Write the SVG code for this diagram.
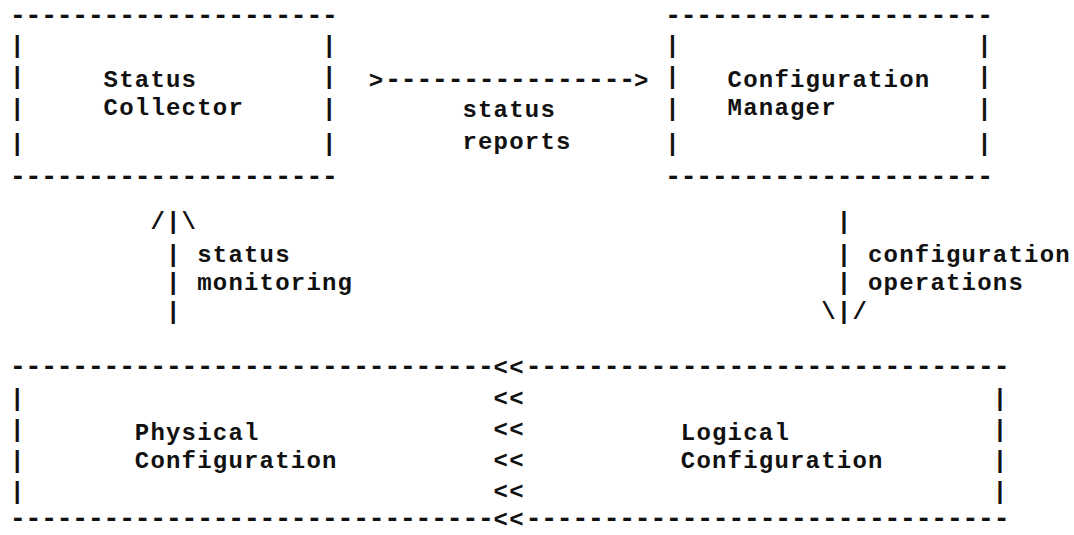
<svg xmlns="http://www.w3.org/2000/svg" width="1074" height="535" viewBox="0 0 1074 535">
  <style>
    /* typewriter grid: one column = 15.6px, column 0 starts at x=10 */
    .t { font-family: "Liberation Mono", "DejaVu Sans Mono", monospace; font-size: 24px; letter-spacing: 1.2px; font-weight: bold; fill: #111; }
    /* horizontal rules: larger hyphens kept on the same 15.6px grid */
    .r { font-family: "Liberation Mono", "DejaVu Sans Mono", monospace; font-size: 27px; letter-spacing: -0.6px; font-weight: bold; fill: #111; }
  </style>
  <rect width="1074" height="535" fill="#ffffff"/>

  <!-- Status Collector -->
  <g id="status-collector">
    <text class="r" x="9.7" y="23.6">---------------------</text>
    <text class="r" x="9.7" y="184.6">---------------------</text>
    <text class="t" x="10" y="53">|</text>
    <text class="t" x="10" y="84">|</text>
    <text class="t" x="10" y="116">|</text>
    <text class="t" x="10" y="151">|</text>
    <text class="t" x="322" y="53">|</text>
    <text class="t" x="322" y="84">|</text>
    <text class="t" x="322" y="116">|</text>
    <text class="t" x="322" y="151">|</text>
    <text class="t" x="103.6" y="87">Status</text>
    <text class="t" x="103.6" y="115">Collector</text>
  </g>

  <!-- Configuration Manager -->
  <g id="configuration-manager">
    <text class="r" x="664.9" y="23.6">---------------------</text>
    <text class="r" x="664.9" y="184.6">---------------------</text>
    <text class="t" x="665.2" y="53">|</text>
    <text class="t" x="665.2" y="84">|</text>
    <text class="t" x="665.2" y="116">|</text>
    <text class="t" x="665.2" y="151">|</text>
    <text class="t" x="977.2" y="53">|</text>
    <text class="t" x="977.2" y="84">|</text>
    <text class="t" x="977.2" y="116">|</text>
    <text class="t" x="977.2" y="151">|</text>
    <text class="t" x="727.6" y="87">Configuration</text>
    <text class="t" x="727.6" y="115">Manager</text>
  </g>

  <!-- Physical / Logical Configuration store -->
  <g id="configuration-store">
    <text class="r" x="9.7" y="374.6">-------------------------------</text>
    <text class="r" x="525.4" y="374.6">-------------------------------</text>
    <text class="r" x="9.7" y="526.6">-------------------------------</text>
    <text class="r" x="525.4" y="526.6">-------------------------------</text>
    <text class="t" x="10" y="406">|</text>
    <text class="t" x="10" y="437">|</text>
    <text class="t" x="10" y="468">|</text>
    <text class="t" x="10" y="499">|</text>
    <text class="t" x="992.8" y="406">|</text>
    <text class="t" x="992.8" y="437">|</text>
    <text class="t" x="992.8" y="468">|</text>
    <text class="t" x="992.8" y="499">|</text>
    <g id="physical-configuration">
      <text class="t" x="134.8" y="440">Physical</text>
      <text class="t" x="134.8" y="468">Configuration</text>
    </g>
    <g id="logical-configuration">
      <text class="t" x="680.8" y="440">Logical</text>
      <text class="t" x="680.8" y="468">Configuration</text>
    </g>
  </g>

  <!-- connectors -->
  <g id="connectors">
    <g id="status-reports">
      <text class="t" x="368.8" y="88">&gt;</text>
      <text class="r" x="385" y="87.6">----------------</text>
      <text class="t" x="634" y="88">&gt;</text>
      <text class="t" x="462.4" y="117">status</text>
      <text class="t" x="462.4" y="149">reports</text>
    </g>
    <g id="status-monitoring">
      <text class="t" x="150.4" y="229">/</text>
      <text class="t" x="166" y="229">|</text>
      <text class="t" x="181.6" y="229">\</text>
      <text class="t" x="166" y="262">|</text>
      <text class="t" x="166" y="290">|</text>
      <text class="t" x="166" y="319">|</text>
      <text class="t" x="197.2" y="262">status</text>
      <text class="t" x="197.2" y="290">monitoring</text>
    </g>
    <g id="configuration-operations">
      <text class="t" x="836.8" y="229">|</text>
      <text class="t" x="836.8" y="262">|</text>
      <text class="t" x="836.8" y="290">|</text>
      <text class="t" x="821.2" y="319">\</text>
      <text class="t" x="836.8" y="319">|</text>
      <text class="t" x="852.4" y="319">/</text>
      <text class="t" x="868" y="262">configuration</text>
      <text class="t" x="868" y="290">operations</text>
    </g>
    <g id="logical-to-physical">
      <text class="t" x="493.6" y="375">&lt;&lt;</text>
      <text class="t" x="493.6" y="406">&lt;&lt;</text>
      <text class="t" x="493.6" y="437">&lt;&lt;</text>
      <text class="t" x="493.6" y="468">&lt;&lt;</text>
      <text class="t" x="493.6" y="499">&lt;&lt;</text>
      <text class="t" x="493.6" y="527">&lt;&lt;</text>
    </g>
  </g>
</svg>
